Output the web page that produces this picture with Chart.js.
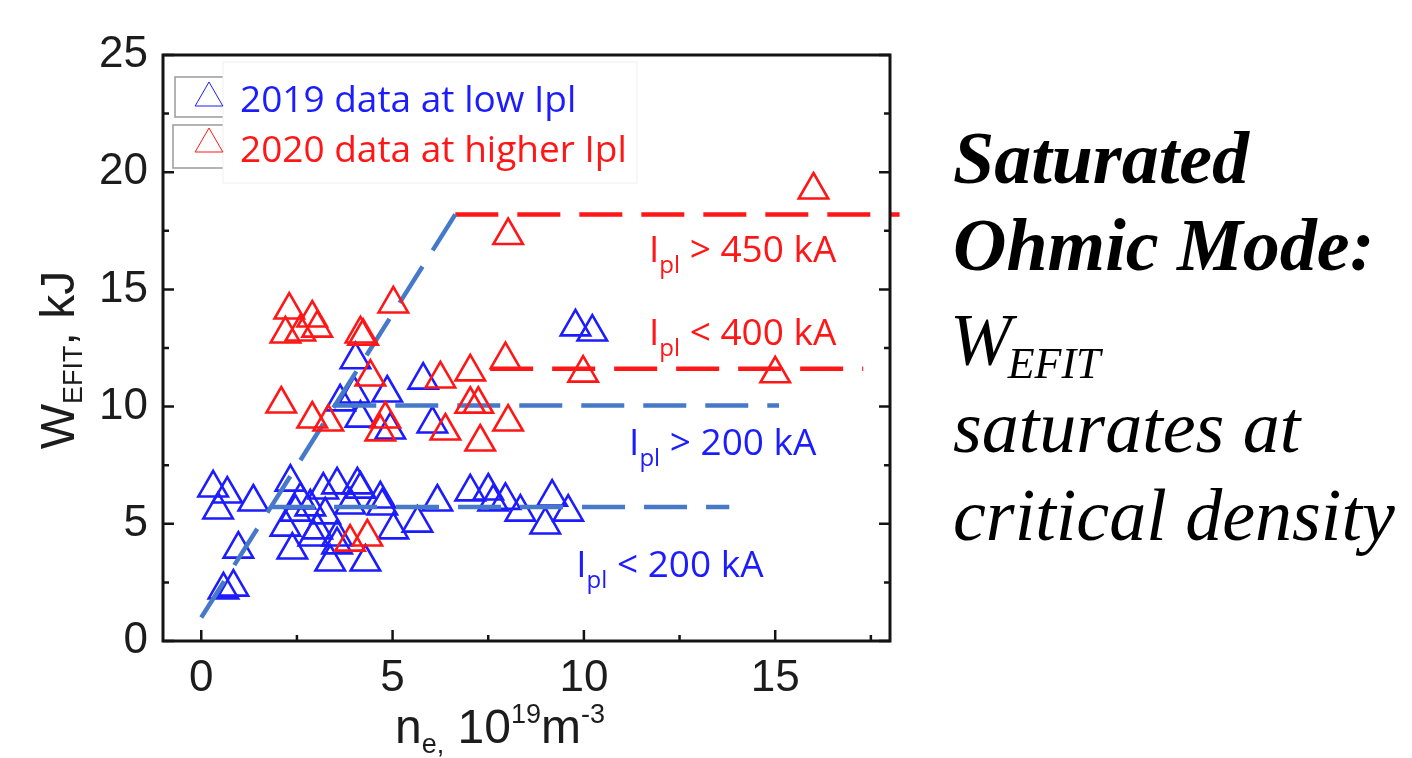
<!DOCTYPE html>
<html>
<head>
<meta charset="utf-8">
<title>W_EFIT vs n_e</title>
<script src="https://cdn.jsdelivr.net/npm/chart.js@4.4.0/dist/chart.umd.min.js"></script>
<style>
  html, body { margin: 0; padding: 0; background: #fff; }
  #wrap { position: relative; width: 1412px; height: 758px; }
</style>
</head>
<body>
<div id="wrap"><canvas id="myChart"></canvas></div>
<script>
// n_e in 1e19 m^-3, W_EFIT in kJ
const ne2019 = [0.31, 0.68, 0.44, 1.36, 0.97, 0.58, 0.84, 2.33, 3.19, 3.55, 4.08, 4.16, 4.68, 4.73,
  2.20, 2.85, 2.38, 3.37, 4.29, 2.93, 3.55, 5.02, 5.65, 6.17, 7.03, 7.50, 7.63, 7.95, 8.34, 9.17,
  9.59, 8.99, 3.03, 3.55, 2.46, 3.24, 3.89, 2.59, 4.03, 3.63, 4.00, 4.86, 4.16, 5.80, 6.04, 9.78,
  10.22, 4.94];
const w2019 = [6.53, 6.27, 5.59, 5.93, 3.92, 2.18, 2.30, 6.78, 6.44, 6.66, 6.66, 6.48, 6.06, 5.76,
  4.86, 5.72, 3.88, 3.37, 3.37, 4.44, 4.44, 4.74, 5.03, 5.93, 6.36, 6.40, 5.93, 6.00, 5.50, 6.14,
  5.50, 4.95, 4.74, 4.10, 5.50, 5.38, 5.80, 6.02, 12.0, 10.2, 10.54, 10.58, 9.51, 11.13, 9.26, 13.4,
  13.18, 9.0];
const ne2020 = [16.0, 8.02, 15.0, 9.98, 7.95, 7.03, 6.25, 8.02, 7.29, 6.38, 7.03, 7.24, 2.30, 2.90,
  2.20, 2.59, 3.03, 5.02, 4.16, 4.23, 4.42, 2.09, 2.90, 3.32, 4.81, 4.68, 3.89, 4.34];
const w2020 = [19.24, 17.3, 11.4, 11.43, 12.0, 11.48, 11.18, 9.34, 8.49, 8.96, 10.1, 10.1, 14.12, 13.78,
  13.1, 13.18, 13.35, 14.38, 13.1, 13.0, 11.26, 10.11, 9.47, 9.34, 9.47, 8.92, 4.22, 4.44];

// dashed guides: linear ramp, then saturation levels
const rampX = [0, 6.64];
const rampY = [1.0, 18.2];
const sat450X = [6.64, 18.25];
const sat450Y = [18.2, 18.2];
const sat400X = [7.55, 17.3];
const sat400Y = [11.62, 11.62];
const sat200hiX = [3.45, 15.1];
const sat200hiY = [10.05, 10.05];
const sat200loX = [1.85, 13.8];
const sat200loY = [5.72, 5.72];

const xTicks = [0, 5, 10, 15];
const yTicks = [0, 5, 10, 15, 20, 25];
const xMinor = [2.5, 7.5, 12.5, 17.5];
const yMinor = [2.5, 7.5, 12.5, 17.5, 22.5];

const legendLabels = ['2019 data at low Ipl', '2020 data at higher Ipl'];
const currentLabels = ['> 450 kA', '< 400 kA', '> 200 kA', '< 200 kA'];
const noteLines = ['Saturated', 'Ohmic Mode:', 'saturates at', 'critical density'];

const BLUE = 'rgb(28,28,255)';
const RED = 'rgb(255,22,22)';
const STEEL = 'rgb(70,122,200)';

// anchor (data coords) of each current label, left edge / baseline
const currentLabelAt = [[11.7, 16.17], [11.7, 12.63], [11.18, 7.94], [9.8, 2.73]];
const currentLabelColor = [RED, RED, BLUE, BLUE];

function toPoints(xs, ys) {
  return xs.map((x, i) => ({ x: x, y: ys[i] }));
}

function markers(xs, ys, color) {
  return {
    data: toPoints(xs, ys),
    showLine: false,
    pointStyle: 'triangle',
    pointRadius: 17,
    pointHoverRadius: 17,
    pointBorderColor: color,
    pointBackgroundColor: 'rgba(0,0,0,0)',
    pointBorderWidth: 2.6,
  };
}

function guide(xs, ys, color) {
  return {
    data: toPoints(xs, ys),
    showLine: true,
    borderColor: color,
    borderWidth: 4.5,
    borderDash: [43, 19],
    borderCapStyle: 'butt',
    pointRadius: 0,
    pointHoverRadius: 0,
    fill: false,
    clip: false,
  };
}

// draws a run of text pieces with their own size and vertical shift
function drawPieces(ctx, pieces, x, y, family) {
  pieces.forEach((p) => {
    ctx.font = `${p.size}px ${family}`;
    ctx.fillText(p.text, x, y + p.dy);
    x += ctx.measureText(p.text).width;
  });
  return x;
}

function piecesWidth(ctx, pieces, family) {
  let w = 0;
  pieces.forEach((p) => {
    ctx.font = `${p.size}px ${family}`;
    w += ctx.measureText(p.text).width;
  });
  return w;
}

const frameDecor = {
  id: 'frameDecor',
  afterDatasetsDraw(chart) {
    const ctx = chart.ctx;
    const area = chart.chartArea;
    const xs = chart.scales.x;
    const ys = chart.scales.y;
    const sans = '"Liberation Sans", Arial, sans-serif';
    const label = '"Open Sans", "Noto Sans", sans-serif';
    ctx.save();

    // box and inward ticks
    ctx.strokeStyle = '#141414';
    ctx.lineWidth = 3;
    ctx.strokeRect(area.left, area.top, area.right - area.left, area.bottom - area.top);
    ctx.lineWidth = 2.5;
    ctx.beginPath();
    yTicks.concat(yMinor).forEach((v) => {
      const len = yTicks.includes(v) ? 11 : 6;
      const py = ys.getPixelForValue(v);
      ctx.moveTo(area.left, py); ctx.lineTo(area.left + len, py);
      ctx.moveTo(area.right, py); ctx.lineTo(area.right - len, py);
    });
    xTicks.concat(xMinor).forEach((v) => {
      const len = xTicks.includes(v) ? 11 : 6;
      const px = xs.getPixelForValue(v);
      ctx.moveTo(px, area.bottom); ctx.lineTo(px, area.bottom - len);
    });
    ctx.stroke();

    // axis titles
    ctx.fillStyle = '#1c1c1c';
    ctx.textBaseline = 'alphabetic';
    ctx.textAlign = 'left';
    const yTitle = [
      { text: 'W', size: 48, dy: 0 },
      { text: 'EFIT', size: 27, dy: 8 },
      { text: ', kJ', size: 48, dy: 0 },
    ];
    ctx.save();
    ctx.translate(74, (area.top + area.bottom) / 2 + 12);
    ctx.rotate(-Math.PI / 2);
    drawPieces(ctx, yTitle, -piecesWidth(ctx, yTitle, sans) / 2, 0, sans);
    ctx.restore();

    const xTitle = [
      { text: 'n', size: 48, dy: 0 },
      { text: 'e,', size: 27, dy: 10 },
      { text: ' 10', size: 48, dy: 0 },
      { text: '19', size: 27, dy: -20 },
      { text: 'm', size: 48, dy: 0 },
      { text: '-3', size: 27, dy: -20 },
    ];
    drawPieces(ctx, xTitle, 500 - piecesWidth(ctx, xTitle, sans) / 2, 743, sans);

    // legend
    ctx.strokeStyle = '#9a9a9a';
    ctx.lineWidth = 1.5;
    ctx.strokeRect(175, 77, 70, 40);
    ctx.strokeRect(173, 125, 70, 43);
    ctx.fillStyle = '#fff';
    ctx.fillRect(223, 62, 414, 121);
    ctx.strokeStyle = '#f0f0f0';
    ctx.lineWidth = 1;
    ctx.strokeRect(223, 62, 414, 121);
    [[BLUE, 98], [RED, 144]].forEach(([color, cy], i) => {
      ctx.strokeStyle = color;
      ctx.fillStyle = 'rgba(0,0,0,0)';
      Chart.helpers.drawPoint(ctx, { pointStyle: 'triangle', radius: 16, borderWidth: 2.6, rotation: 0 }, 209, cy);
      ctx.fillStyle = color;
      ctx.font = `37px ${label}`;
      ctx.fillText(legendLabels[i], 240, i === 0 ? 112 : 162);
    });

    // current thresholds next to the guides
    currentLabels.forEach((txt, i) => {
      const px = xs.getPixelForValue(currentLabelAt[i][0]);
      const py = ys.getPixelForValue(currentLabelAt[i][1]);
      ctx.fillStyle = currentLabelColor[i];
      drawPieces(ctx, [
        { text: 'I', size: 37, dy: 0 },
        { text: 'pl', size: 24, dy: 11 },
        { text: ' ' + txt, size: 37, dy: 0 },
      ], px, py, label);
    });

    // side note
    const serif = '"Liberation Serif", "Times New Roman", serif';
    ctx.fillStyle = '#000';
    ctx.font = `italic bold 74px ${serif}`;
    ctx.fillText(noteLines[0], 953, 183);
    ctx.fillText(noteLines[1], 953, 270);
    ctx.font = `italic 74px ${serif}`;
    ctx.fillText('W', 950, 365);
    const wW = ctx.measureText('W').width;
    ctx.font = `italic 44px ${serif}`;
    ctx.fillText('EFIT', 950 + wW - 4, 378);
    ctx.font = `italic 74px ${serif}`;
    ctx.fillText(noteLines[2], 953, 452);
    ctx.fillText(noteLines[3], 953, 540);

    ctx.restore();
  },
};

function renderChart() {
  const ctx = document.getElementById('myChart').getContext('2d');
  const tickFont = { family: '"Liberation Sans", Arial, sans-serif', size: 44 };

  new Chart(ctx, {
    type: 'scatter',
    data: {
      datasets: [
        markers(ne2020, w2020, RED),
        guide(rampX, rampY, STEEL),
        guide(sat450X, sat450Y, RED),
        guide(sat400X, sat400Y, RED),
        guide(sat200hiX, sat200hiY, STEEL),
        guide(sat200loX, sat200loY, STEEL),
        markers(ne2019, w2019, BLUE),
      ],
    },
    options: {
      responsive: true,
      maintainAspectRatio: false,
      animation: false,
      events: [],
      layout: { padding: { top: 55, right: 522, left: 0, bottom: 0 } },
      plugins: {
        legend: { display: false },
        tooltip: { enabled: false },
      },
      scales: {
        x: {
          type: 'linear',
          min: -1,
          max: 18,
          grid: { display: false, drawTicks: false },
          border: { display: false },
          ticks: { font: tickFont, color: '#1c1c1c', padding: 11, maxRotation: 0 },
          afterBuildTicks(scale) { scale.ticks = xTicks.map((v) => ({ value: v })); },
          afterFit(scale) { scale.height = 117; },
        },
        y: {
          type: 'linear',
          min: 0,
          max: 25,
          grid: { display: false, drawTicks: false },
          border: { display: false },
          ticks: { font: tickFont, color: '#1c1c1c', padding: 15 },
          afterBuildTicks(scale) { scale.ticks = yTicks.map((v) => ({ value: v })); },
          afterFit(scale) { scale.width = 163; },
        },
      },
    },
    plugins: [frameDecor],
  });
}

document.addEventListener('DOMContentLoaded', renderChart);
</script>
</body>
</html>
